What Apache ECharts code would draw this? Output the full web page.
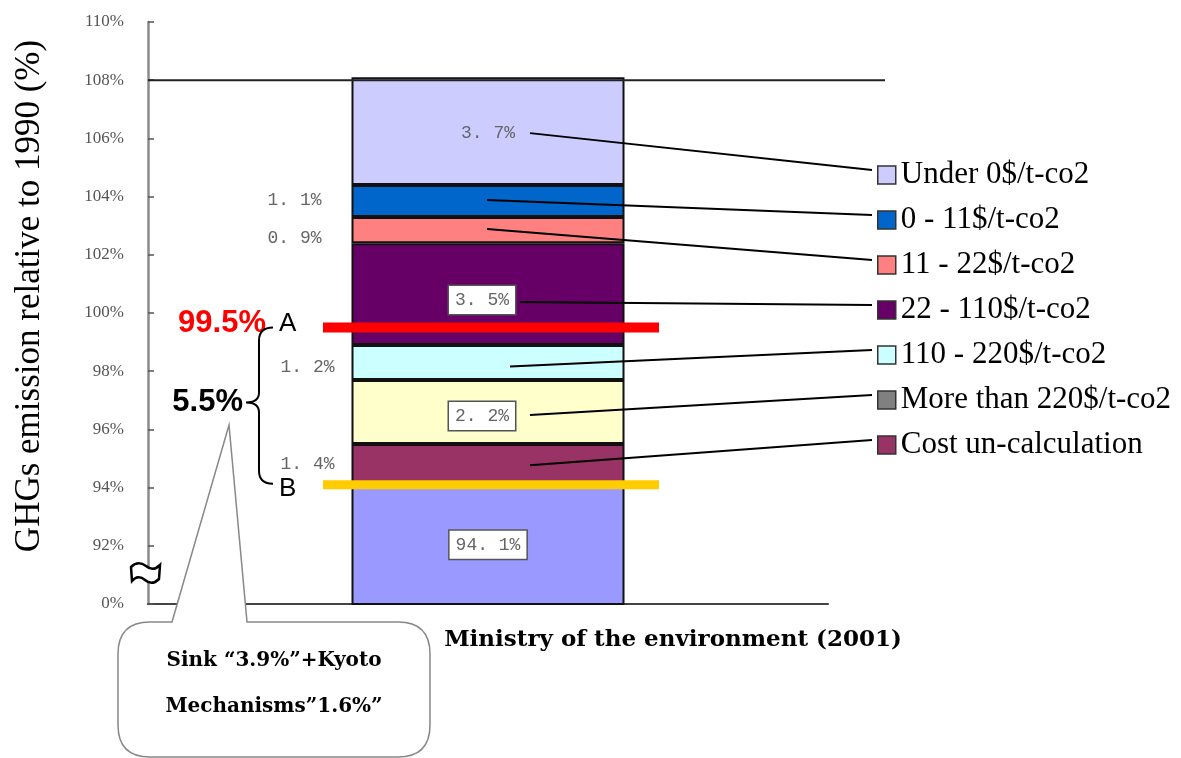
<!DOCTYPE html>
<html>
<head>
<meta charset="utf-8">
<script src="https://cdn.jsdelivr.net/npm/echarts@6/dist/echarts.min.js"></script>
<style>
  html, body { margin: 0; padding: 0; background: #fff; }
  #chart { width: 1181px; height: 758px; }
</style>
</head>
<body>
<div id="chart"></div>
<script>
// ---- data ----
const categories = ['Ministry of the environment (2001)'];
const baseName = 'Remaining emissions';
const baseValues = [94.1];
// cost bands, stacked bottom to top
const bandNames = [
  'Cost un-calculation',
  'More than 220$/t-co2',
  '110 - 220$/t-co2',
  '22 - 110$/t-co2',
  '11 - 22$/t-co2',
  '0 - 11$/t-co2',
  'Under 0$/t-co2'
];
const bandValues = [1.4, 2.2, 1.2, 3.5, 0.9, 1.1, 3.7];
const yMin = 90, yMax = 110, yStep = 2;
const breakTickLabel = '0%';
const targetA = 99.5;
const targetB = 94.1;
const gapLabel = '5.5%';
const calloutLines = ['Sink “3.9%”+Kyoto', 'Mechanisms”1.6%”'];
const yAxisTitle = 'GHGs emission relative to 1990 (%)';

// ---- styles ----
const bandColors = ['#993366', '#ffffcc', '#ccffff', '#660066', '#ff8080', '#0066cc', '#ccccff'];
const legendIconColors = ['#993366', '#808080', '#ccffff', '#660066', '#ff8080', '#0066cc', '#ccccff'];
const labelFont = { color: '#666', fontFamily: 'Liberation Mono', fontSize: 18 };
const boxed = { backgroundColor: '#fff', borderColor: '#555', borderWidth: 1.5, padding: [5, 6] };
const bandLabels = [
  { position: 'left', distance: 17, offset: [0, 0] },
  Object.assign({ position: 'inside', offset: [-6, 4] }, boxed),
  { position: 'left', distance: 17, offset: [0, 5] },
  Object.assign({ position: 'inside', offset: [-6, 6] }, boxed),
  { position: 'left', distance: 30, offset: [0, 8] },
  { position: 'left', distance: 30, offset: [0, -1] },
  { position: 'inside', offset: [0, 2] }
];
// where each leader line leaves the bar: x pixel and small vertical nudge
const leaderStarts = [[530, 1], [530, 3], [510, 4], [520, 8], [487, -1], [487, -1], [530, 2]];

const fmtPct = p => String(p.value).replace('.', '. ') + '%';

// free-form outline shapes for the graphic component
function pathShape(name, d) {
  echarts.graphic.registerShape(name, echarts.graphic.extendPath(d, {}));
  return name;
}

const chart = echarts.init(document.getElementById('chart'), null, { renderer: 'canvas' });

const series = [{
  name: baseName,
  type: 'bar',
  stack: 'total',
  barWidth: 273,
  data: baseValues,
  itemStyle: { color: '#9999ff', borderColor: '#111', borderWidth: 2 },
  label: Object.assign({ show: true, position: 'inside', formatter: fmtPct }, labelFont, boxed)
}];
bandNames.forEach((name, i) => {
  series.push({
    name,
    type: 'bar',
    stack: 'total',
    barWidth: 273,
    data: [bandValues[i]],
    itemStyle: { color: bandColors[i], borderColor: '#111', borderWidth: 2 },
    label: Object.assign({ show: true, formatter: fmtPct }, labelFont, bandLabels[i])
  });
});

const legendTop = 153, legendStep = 45, legendRowH = 34;
const legendOrder = bandNames.map((n, i) => i).reverse();

chart.setOption({
  animation: false,
  backgroundColor: '#fff',
  grid: { left: 148, right: 353, top: 22, bottom: 154 },
  xAxis: {
    type: 'category',
    data: categories,
    axisLine: { lineStyle: { color: '#444', width: 2 } },
    axisTick: { show: false },
    axisLabel: { show: false }
  },
  yAxis: {
    type: 'value',
    min: yMin, max: yMax, interval: yStep,
    axisLine: { show: true, lineStyle: { color: '#8a8a8a', width: 2.5 } },
    axisTick: { show: true, inside: true, length: 6, lineStyle: { color: '#555', width: 1.5 } },
    splitLine: { show: false },
    axisLabel: {
      margin: 24,
      color: '#555',
      fontFamily: 'Liberation Serif',
      fontSize: 17,
      formatter: v => (v === yMin ? breakTickLabel : v + '%')
    }
  },
  legend: {
    orient: 'vertical',
    left: 872,
    top: legendTop,
    itemWidth: 18,
    itemHeight: 18,
    itemGap: legendStep - legendRowH,
    icon: 'rect',
    selectedMode: false,
    textStyle: { fontFamily: 'Liberation Serif', fontSize: 31, color: '#000', lineHeight: legendRowH },
    data: legendOrder.map(i => ({
      name: bandNames[i],
      itemStyle: { color: legendIconColors[i], borderColor: '#333', borderWidth: 1.5 }
    }))
  },
  series
});

// ---- annotations placed through the value axis ----
const yPx = v => chart.convertToPixel({ yAxisIndex: 0 }, v);
const graphics = [];

// 108% reference line
graphics.push({ type: 'line', z: 20, shape: { x1: 148, y1: yPx(108), x2: 885, y2: yPx(108) }, style: { stroke: '#222', lineWidth: 2 } });

// leader lines from each band to its legend entry
let cum = baseValues[0];
bandValues.forEach((v, i) => {
  const mid = cum + v / 2;
  cum += v;
  const row = legendOrder.indexOf(i);
  const yEnd = legendTop + legendRowH / 2 + row * legendStep;
  graphics.push({
    type: 'line', z: 20,
    shape: { x1: leaderStarts[i][0], y1: yPx(mid) + leaderStarts[i][1], x2: 872, y2: yEnd },
    style: { stroke: '#000', lineWidth: 2 }
  });
});

// target lines A and B
const yA = yPx(targetA), yB = yPx(targetB);
graphics.push({ type: 'line', z: 30, shape: { x1: 323, y1: yA, x2: 659, y2: yA }, style: { stroke: '#ff0000', lineWidth: 10 } });
graphics.push({ type: 'line', z: 30, shape: { x1: 323, y1: yB, x2: 659, y2: yB }, style: { stroke: '#ffcc00', lineWidth: 9 } });

graphics.push({ type: 'text', z: 30, style: { x: 266, y: yA - 4, text: targetA + '%', fill: '#ff0000', font: 'bold 31px "Liberation Sans"', textAlign: 'right', textVerticalAlign: 'middle' } });
graphics.push({ type: 'text', z: 30, style: { x: 279, y: yA - 4, text: 'A', fill: '#000', font: '26px "Liberation Sans"', textAlign: 'left', textVerticalAlign: 'middle' } });
graphics.push({ type: 'text', z: 30, style: { x: 279, y: yB + 4, text: 'B', fill: '#000', font: '26px "Liberation Sans"', textAlign: 'left', textVerticalAlign: 'middle' } });

// brace between A and B
const bTop = yA, bBot = yB - 1, bMid = (bTop + bBot) / 2 - 3;
graphics.push({
  type: pathShape('braceAB', `M273,${bTop} Q259,${bTop} 259,${bTop + 13} L259,${bMid - 10} Q259,${bMid} 246,${bMid} Q259,${bMid} 259,${bMid + 10} L259,${bBot - 13} Q259,${bBot} 273,${bBot}`),
  z: 30,
  style: { stroke: '#000', lineWidth: 2, fill: null }
});
graphics.push({ type: 'text', z: 30, style: { x: 243, y: bMid, text: gapLabel, fill: '#000', font: 'bold 31px "Liberation Sans"', textAlign: 'right', textVerticalAlign: 'middle' } });

// axis break mark between 0% and 92%
graphics.push({
  type: pathShape('axisBreak', 'M131,567 Q138,560 146,566 Q153,572 160,565 L159,579 Q152,586 145,580 Q138,574 132,581 Z'),
  z: 40,
  style: { stroke: '#000', lineWidth: 2.5, fill: '#fff' }
});

// callout bubble
graphics.push({
  type: pathShape('callout', 'M150,622 L172,622 L229,425 L247,622 L398,622 Q430,622 430,654 L430,725 Q430,757 398,757 L150,757 Q118,757 118,725 L118,654 Q118,622 150,622 Z'),
  z: 40,
  style: { stroke: '#888', lineWidth: 1.5, fill: '#fff' }
});
calloutLines.forEach((t, i) => {
  graphics.push({ type: 'text', z: 41, style: { x: 274, y: 661 + i * 46, text: t, fill: '#000', font: 'bold 20px "DejaVu Serif"', textAlign: 'center', textVerticalAlign: 'middle' } });
});

// category caption and y-axis title
graphics.push({ type: 'text', z: 30, style: { x: 673, y: 640, text: categories[0], fill: '#000', font: 'bold 23px "DejaVu Serif"', textAlign: 'center', textVerticalAlign: 'middle' } });
graphics.push({ type: 'text', z: 30, x: 30, y: 296, rotation: Math.PI / 2, style: { x: 0, y: 0, text: yAxisTitle, fill: '#000', font: '35px "Liberation Serif"', textAlign: 'center', textVerticalAlign: 'middle' } });

chart.setOption({ graphic: graphics });
</script>
</body>
</html>
